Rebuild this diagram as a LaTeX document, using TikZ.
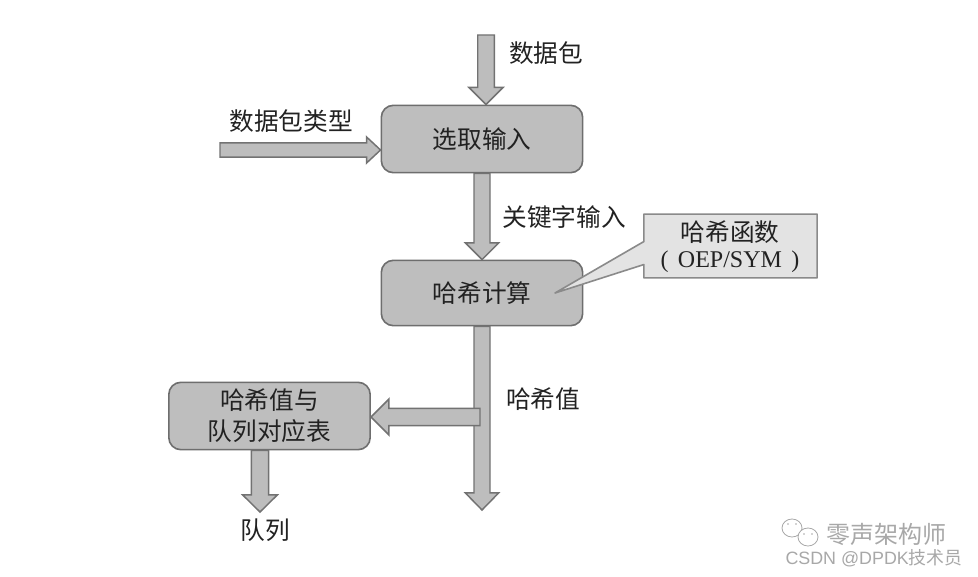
\documentclass[tikz,border=0pt]{standalone}
\usepackage{fontspec}
\setmainfont{Liberation Serif}
\newfontfamily\cjk{Noto Sans CJK SC}
\newfontfamily\wmlatin{Liberation Sans}
\usetikzlibrary{calc}
\definecolor{boxfill}{HTML}{BEBEBE}
\definecolor{boxline}{HTML}{6E6E6E}
\definecolor{arrfill}{HTML}{BDBDBD}
\definecolor{arrline}{HTML}{727272}
\definecolor{callfill}{HTML}{E3E3E3}
\definecolor{callline}{HTML}{8A8A8A}
\definecolor{inktext}{HTML}{222222}
\definecolor{wmgray}{HTML}{A8A8A8}
\tikzset{
  procbox/.style={draw=boxline,fill=boxfill,line width=1.2pt,rounded corners=9pt,inner sep=0pt,
    minimum width=151pt,font=\cjk\fontsize{18.5}{23}\selectfont,text=inktext,align=center},
  lab/.style={inner sep=0pt,font=\cjk\fontsize{18.5}{23}\selectfont,text=inktext,align=center},
  blockarr/.style={draw=arrline,fill=arrfill,line width=1.1pt,line join=miter},
  callshape/.style={draw=callline,fill=callfill,line width=1.2pt,line join=round},
  wm/.style={inner sep=0pt,text=wmgray},
}
% start, end, half shaft, head length, half head
\newcommand\blockarrow[5]{%
  \draw[blockarr] ($(#1)!#3!90:(#2)$) -- ($(#2)!#4!(#1)!#3!90:(#2)$)
    -- ($(#2)!#4!(#1)!#5!90:(#2)$) -- (#2)
    -- ($(#2)!#4!(#1)!#5!-90:(#2)$) -- ($(#2)!#4!(#1)!#3!-90:(#2)$)
    -- ($(#1)!#3!-90:(#2)$) -- cycle;}
\begin{document}
\begin{tikzpicture}[x=.75pt,y=-.75pt]
\useasboundingbox (0,0) rectangle (978,577);
\fill[white] (0,0) rectangle (978,577);
% boxes
\node[procbox,minimum height=50.5pt] (sel) at (482,139) {选取输入};
\node[procbox,minimum height=49pt] (hash) at (482,293) {哈希计算};
\node[procbox,minimum height=50.5pt] (tab) at (269.5,416) {哈希值与\\队列对应表};
% free ends
\coordinate (in1) at (486,35);
\coordinate (in2) at (220,150);
\coordinate (out1) at (482,510);
\coordinate (tap) at (480,417);
\coordinate (qo) at (260,512);
\coordinate (e1) at (sel.north -| in1);
\coordinate (e2) at (sel.west |- in2);
\coordinate (e3) at (tab.east |- tap);
\coordinate (s4) at (tab.south -| qo);
% arrows
\blockarrow{in1}{e1}{6.2pt}{12.8pt}{12.8pt}
\blockarrow{in2}{e2}{5.3pt}{10.5pt}{9.8pt}
\blockarrow{sel.south}{hash.north}{6pt}{12.5pt}{12.5pt}
\blockarrow{hash.south}{out1}{6pt}{12.8pt}{12.5pt}
\blockarrow{tap}{e3}{6.5pt}{13.5pt}{13.5pt}
\blockarrow{s4}{qo}{6.4pt}{12.8pt}{13pt}
% callout
\node[minimum width=129.5pt,minimum height=47.5pt,inner sep=0pt] (call) at (730.5,246) {};
\coordinate (tip) at (555,293);
\coordinate (cb1) at ($(call.north west)!.79!(call.south west)$);
\coordinate (cb2) at ($(call.north west)!.43!(call.south west)$);
\draw[callshape] (call.north west) -- (call.north east) -- (call.south east) -- (call.south west)
  -- (cb1) -- (tip) -- (cb2) -- cycle;
\node[lab] (c1) at (730,232) {哈希函数};
\node[lab,font=\fontsize{18}{23}\selectfont] (c2) at (730,262) {(\hspace{7pt}OEP/SYM\hspace{7pt})};
% labels
\node[lab] (l1) at (546,53) {数据包};
\node[lab] (l2) at (291,121) {数据包类型};
\node[lab] (l3) at (564,217) {关键字输入};
\node[lab] (l4) at (543,399) {哈希值};
\node[lab] (l5) at (265,530) {队列};
% watermark
\draw[wmgray,line width=.6pt,fill=white] (792,528) ellipse (10 and 9);
\draw[wmgray,line width=.6pt,fill=white] (808,537) ellipse (10 and 9);
\fill[wmgray] (788,524) circle (.9) (796,524) circle (.9) (804,534) circle (.9) (812,534) circle (.9);
\node[wm,font=\cjk\fontsize{18}{20}\selectfont] (w1) at (886,534) {零声架构师};
\node[wm,font=\wmlatin\fontsize{13.4}{15}\selectfont] (w2) at (874,558) {CSDN @DPDK{\cjk 技术员}};
\end{tikzpicture}
\end{document}
